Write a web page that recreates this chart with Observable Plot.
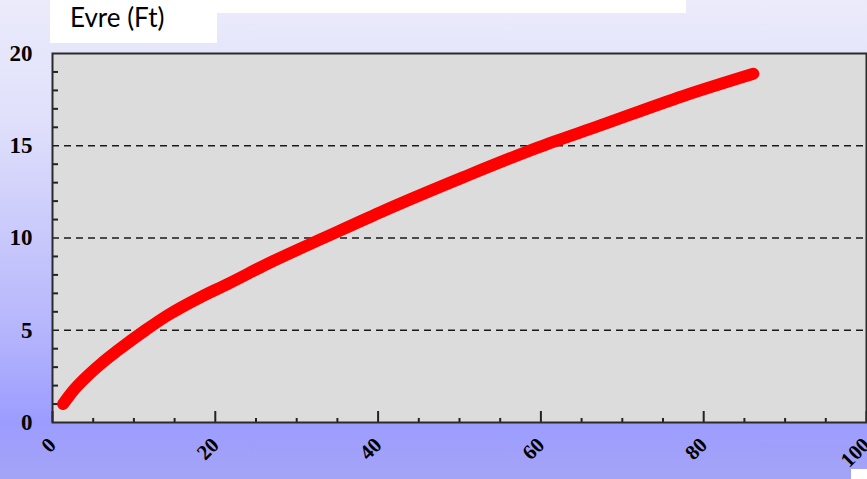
<!DOCTYPE html>
<html><head><meta charset="utf-8">
<script src="https://cdn.jsdelivr.net/npm/d3@7"></script>
<script src="https://cdn.jsdelivr.net/npm/@observablehq/plot@0.6"></script>
<style>
html,body{margin:0;padding:0;background:#fff;}
#wrap{position:relative;width:867px;height:479px;overflow:hidden;
  background:linear-gradient(to bottom,#ebebfb 0%,#e0e0fb 25%,#cacafc 48%,#b4b4fd 70%,#9c9cff 88%,#a4a4f6 100%);}
#wrap svg{position:absolute;left:0;top:0;}
#title{position:absolute;left:50px;top:0;width:167px;height:43px;background:#fff;
  font-family:Lato,"Open Sans",sans-serif;font-size:26px;line-height:26px;color:#000;
  box-sizing:border-box;padding:4px 0 0 20px;}
#strip{position:absolute;left:217px;top:0;width:469px;height:13px;background:#fff;}
#corner{position:absolute;left:851px;top:469px;width:16px;height:10px;background:#fff;}
</style>
</head><body>
<div id="wrap"></div>
<script>
// curve readings (x, y)
const xVals = [1.3, 2.5, 4.0, 6.0, 8.0, 11.4, 14.1, 18.2, 21.5, 26.4, 33.8, 40.3, 50.5, 59.6, 67.3, 77.5, 86.1];
const yVals = [1.0, 1.7, 2.4, 3.2, 3.9, 5.0, 5.8, 6.8, 7.5, 8.6, 10.1, 11.4, 13.3, 14.9, 16.1, 17.7, 18.9];
const xMajorTicks = [0, 20, 40, 60, 80, 100];
const xMinorTicks = [5, 10, 15, 25, 30, 35, 45, 50, 55, 65, 70, 75, 85, 90, 95];
const yMajorTicks = [0, 5, 10, 15, 20];
const yMinorTicks = [1, 2, 3, 4, 6, 7, 8, 9, 11, 12, 13, 14, 16, 17, 18, 19];
const gridValues = [5, 10, 15];
const titleText = "Evre (Ft)";

const data = xVals.map((x, i) => ({x, y: yVals[i]}));
const serif = "'Liberation Serif','DejaVu Serif',serif";

const chart = Plot.plot({
  width: 867, height: 479,
  marginLeft: 52, marginTop: 53, marginRight: 1, marginBottom: 57,
  style: {background: "transparent", overflow: "visible"},
  x: {domain: [0, 100], label: null},
  y: {domain: [0, 20], label: null},
  marks: [
    Plot.frame({fill: "#dcdcdc"}),
    Plot.ruleY(gridValues, {stroke: "#1a1a1a", strokeWidth: 1.6, strokeDasharray: "7,5"}),
    Plot.axisX(xMinorTicks, {tickSize: -4, tickFormat: () => "", stroke: "#222", strokeWidth: 2, label: null}),
    Plot.axisX(xMajorTicks, {tickSize: -11, tickFormat: () => "", stroke: "#222", strokeWidth: 2, label: null}),
    Plot.axisX(xMajorTicks, {tickSize: 0, tickPadding: 19, tickRotate: -45, fontSize: 21, fontFamily: serif, fontWeight: "bold", fill: "#000", label: null}),
    Plot.axisY(yMinorTicks, {tickSize: -6, tickFormat: () => "", stroke: "#222", strokeWidth: 2, label: null}),
    Plot.axisY(yMajorTicks, {tickSize: 0, tickPadding: 20, fontSize: 23, fontFamily: serif, fontWeight: "bold", fill: "#000", label: null}),
    Plot.line(data, {x: "x", y: "y", stroke: "#ff0000", strokeWidth: 12, strokeLinecap: "round", strokeLinejoin: "round", curve: "monotone-x"}),
    Plot.frame({stroke: "#2a2a2a", strokeWidth: 2})
  ]
});

const wrap = document.getElementById("wrap");
wrap.appendChild(chart);
const strip = document.createElement("div"); strip.id = "strip"; wrap.appendChild(strip);
const title = document.createElement("div"); title.id = "title"; title.textContent = titleText; wrap.appendChild(title);
const corner = document.createElement("div"); corner.id = "corner"; wrap.appendChild(corner);
</script>
</body></html>
